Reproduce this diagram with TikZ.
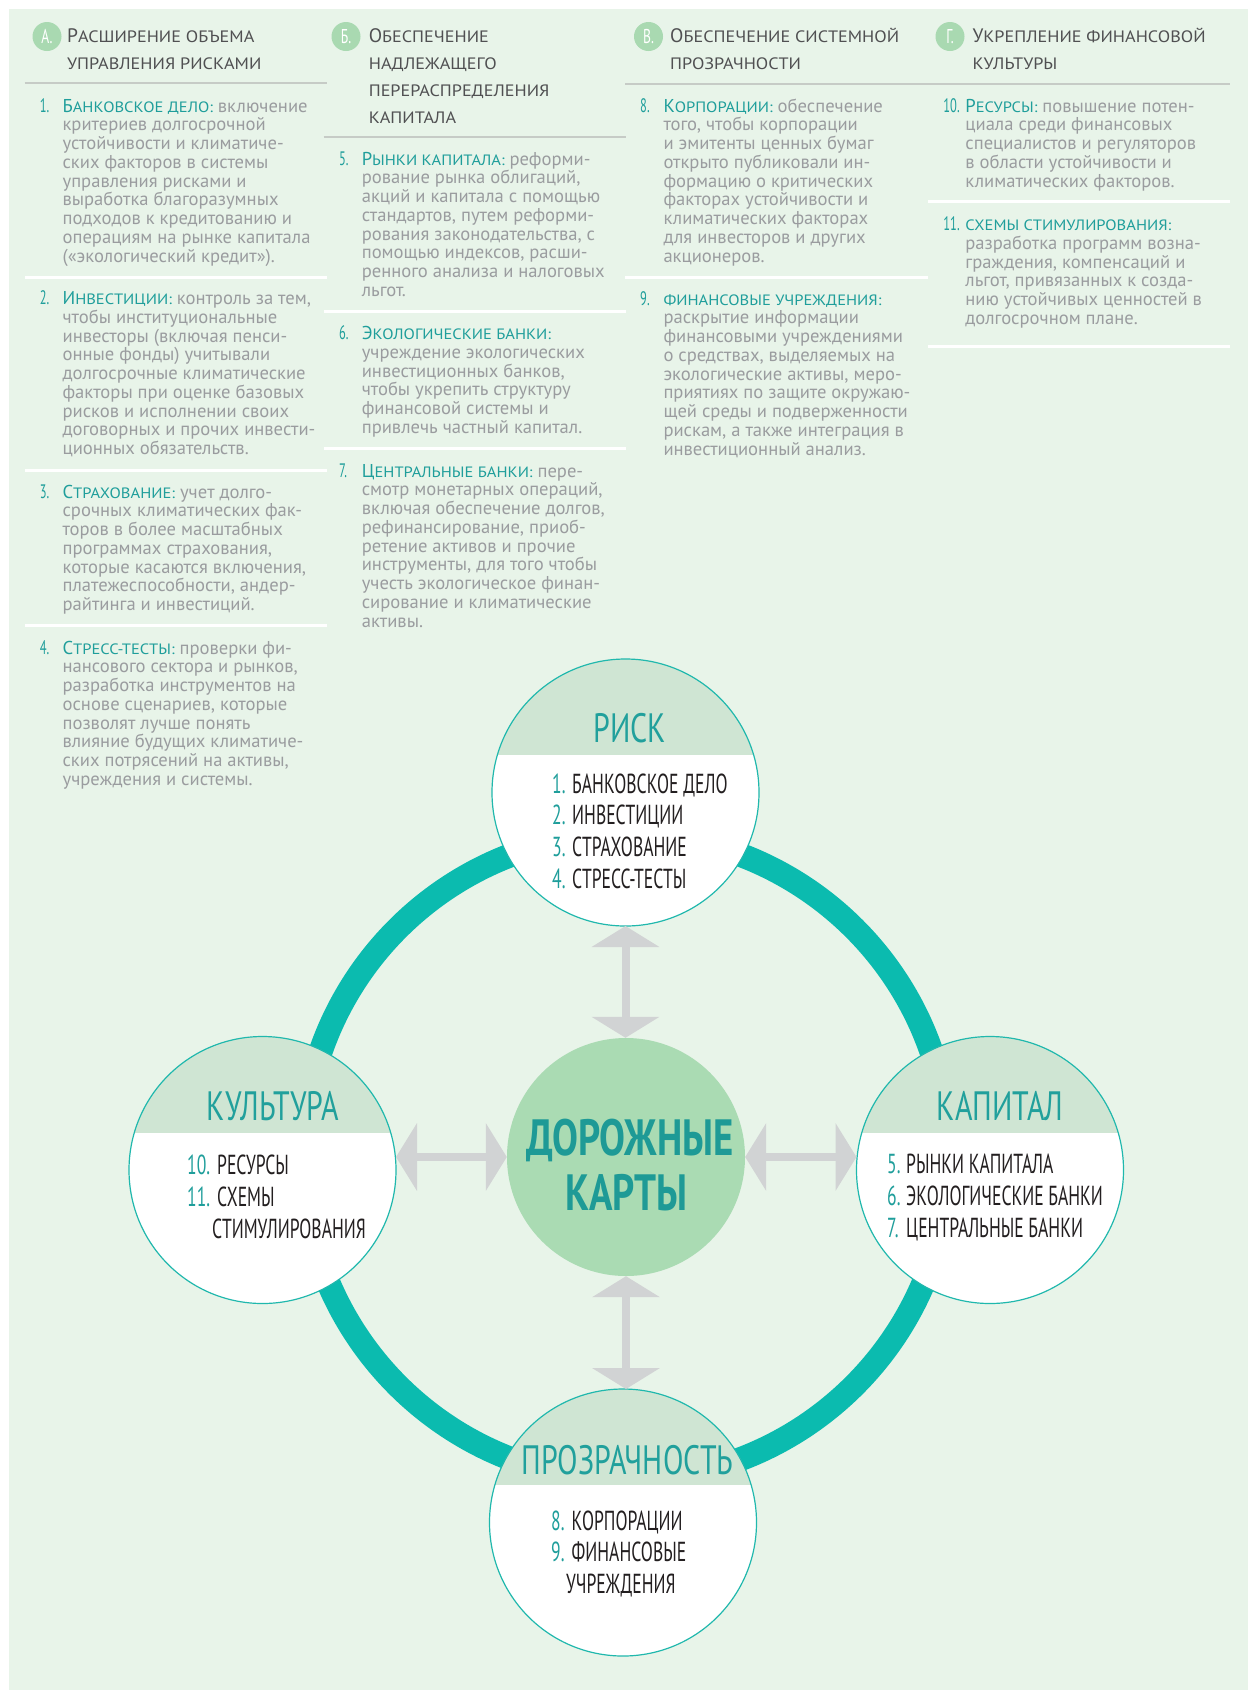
\documentclass[tikz,border=0pt]{standalone}
\usepackage{fontspec}
\setmainfont{PT Sans}
\newfontfamily\condfont[FakeStretch=0.64]{PT Sans}
\newfontfamily\titlefont[FakeStretch=0.73]{PT Sans}
\newfontfamily\markfont[FakeStretch=0.68]{PT Sans}
\newfontfamily\hubfont[FakeStretch=0.76]{PT Sans}
\newfontfamily\widefont[FakeStretch=1.1]{PT Sans}
\usetikzlibrary{arrows.meta}

\definecolor{bggreen}{HTML}{E8F4E9}
\definecolor{bandgreen}{HTML}{CFE5D3}
\definecolor{hubgreen}{HTML}{AADBB3}
\definecolor{ringteal}{HTML}{0BBBAF}
\definecolor{edgeteal}{HTML}{20B8AD}
\definecolor{titleteal}{HTML}{21A09C}
\definecolor{hubteal}{HTML}{1E9A96}
\definecolor{labelteal}{HTML}{1F9E9B}
\definecolor{bodygrey}{HTML}{9A9C9F}
\definecolor{headgrey}{HTML}{505052}
\definecolor{itemdark}{HTML}{231F20}
\definecolor{arrowgrey}{HTML}{D1D3D4}
\definecolor{markergreen}{HTML}{A9D9B1}
\definecolor{rulegrey}{HTML}{C6CBC6}

% fake small caps for headings and labels
\newcommand\hsc[1]{{\widefont\fontsize{16.5}{16.5}\selectfont #1}}
\newcommand\lsc[1]{{\widefont\fontsize{15}{15}\selectfont #1}}
\newcommand\lbl[1]{{\color{labelteal}#1}}

% one numbered paragraph: name, number x, text x, first baseline, number, lines
\newcommand\itemblock[6]{%
  \node[bodynum] (#1-n) at (#2,#4) {#5};
  \foreach \ln [count=\k] in {#6}{%
    \node[bodytxt] (#1-\k) at (#3,{#4+(\k-1)*18.75}) {\ln};
  }%
}

\begin{document}
\begin{tikzpicture}[x=1pt,y=-1pt,
  bodytxt/.style={font=\fontsize{18.6}{18.75}\selectfont, text=bodygrey, inner sep=0pt, anchor=base west},
  bodynum/.style={font=\condfont\fontsize{19.5}{19.5}\selectfont, text=labelteal, inner sep=0pt, anchor=base west},
  headtxt/.style={font=\fontsize{19.5}{19.5}\selectfont, text=headgrey, inner sep=0pt, anchor=base west},
  marker/.style={circle, fill=markergreen, minimum size=29pt, inner sep=0pt, text=white, font=\markfont\fontsize{20}{20}\selectfont},
  toprule/.style={rulegrey, line width=1.3pt},
  gap/.style={white, line width=3pt},
  sat/.style={circle, minimum size=267pt, inner sep=0pt, outer sep=0pt, draw=edgeteal, line width=1.2pt, fill=white,
    path picture={\fill[bandgreen] (path picture bounding box.north west) rectangle ([yshift=-96pt]path picture bounding box.north east);}},
  sattitle/.style={font=\titlefont\fontsize{41}{41}\selectfont, text=titleteal, inner sep=0pt, anchor=base},
  satitem/.style={font=\condfont\fontsize{27.5}{28}\selectfont, text=itemdark, inner sep=0pt, anchor=base west},
  satnum/.style={satitem, text=labelteal},
  hubtxt/.style={font=\hubfont\bfseries\fontsize{51}{51}\selectfont, text=hubteal, inner sep=0pt, anchor=base},
  duo/.style={arrowgrey, line width=8pt, {Triangle[length=21pt,width=67pt]}-{Triangle[length=21pt,width=67pt]}}
]
\useasboundingbox (0,0) rectangle (1248,1690);
\fill[white] (0,0) rectangle (1248,1690);
\fill[bggreen] (9,9) rectangle (1248,1690);

% ---------- column headings ----------
\node[marker] (mA) at (47,36.5) {А.};
\node[headtxt] (hA1) at (67,42.7) {Р\hsc{АСШИРЕНИЕ ОБЪЕМА}};
\node[headtxt] (hA2) at (67,69.2) {\hsc{УПРАВЛЕНИЯ РИСКАМИ}};

\node[marker] (mB) at (346,36.5) {Б.};
\node[headtxt] (hB1) at (368.6,42.7) {О\hsc{БЕСПЕЧЕНИЕ}};
\node[headtxt] (hB2) at (368.6,69.5) {\hsc{НАДЛЕЖАЩЕГО}};
\node[headtxt] (hB3) at (368.6,96.3) {\hsc{ПЕРЕРАСПРЕДЕЛЕНИЯ}};
\node[headtxt] (hB4) at (368.6,123) {\hsc{КАПИТАЛА}};

\node[marker] (mC) at (648.5,36.5) {В.};
\node[headtxt] (hC1) at (670,42.7) {О\hsc{БЕСПЕЧЕНИЕ СИСТЕМНОЙ}};
\node[headtxt] (hC2) at (670,69.2) {\hsc{ПРОЗРАЧНОСТИ}};

\node[marker] (mD) at (950,36.5) {Г.};
\node[headtxt] (hD1) at (972.4,42.7) {У\hsc{КРЕПЛЕНИЕ ФИНАНСОВОЙ}};
\node[headtxt] (hD2) at (972.4,69.2) {\hsc{КУЛЬТУРЫ}};

% rules under the headings
\draw[toprule] (24.5,83) -- (326.5,83);
\draw[toprule] (323.7,137) -- (625.7,137);
\draw[toprule] (625,84) -- (927.6,84);
\draw[toprule] (927.6,84) -- (1229.5,84);

% white gaps between paragraphs
\draw[gap] (24.5,277) -- (326.5,277);
\draw[gap] (24.5,470.7) -- (326.5,470.7);
\draw[gap] (24.5,625.7) -- (326.5,625.7);
\draw[gap] (323.7,311.7) -- (625.7,311.7);
\draw[gap] (323.7,448.7) -- (625.7,448.7);
\draw[gap] (625,277) -- (927.6,277);
\draw[gap] (927.6,201.7) -- (1229.5,201.7);
\draw[gap] (927.6,346.7) -- (1229.5,346.7);

% ---------- column A ----------
\itemblock{p1}{39.6}{62.4}{112}{1.}{%
 {\lbl{Б\lsc{АНКОВСКОЕ ДЕЛО:}} включение},
 {критериев долгосрочной},
 {устойчивости и климатиче-},
 {ских факторов в системы},
 {управления рисками и},
 {выработка благоразумных},
 {подходов к кредитованию и},
 {операциям на рынке капитала},
 {(«экологический кредит»).}}
\itemblock{p2}{39.6}{62.4}{304.5}{2.}{%
 {\lbl{И\lsc{НВЕСТИЦИИ:}} контроль за тем,},
 {чтобы институциональные},
 {инвесторы (включая пенси-},
 {онные фонды) учитывали},
 {долгосрочные климатические},
 {факторы при оценке базовых},
 {рисков и исполнении своих},
 {договорных и прочих инвести-},
 {ционных обязательств.}}
\itemblock{p3}{39.6}{62.4}{498}{3.}{%
 {\lbl{С\lsc{ТРАХОВАНИЕ:}} учет долго-},
 {срочных климатических фак-},
 {торов в более масштабных},
 {программах страхования,},
 {которые касаются включения,},
 {платежеспособности, андер-},
 {райтинга и инвестиций.}}
\itemblock{p4}{39.6}{62.4}{654}{4.}{%
 {\lbl{С\lsc{ТРЕСС-ТЕСТЫ:}} проверки фи-},
 {нансового сектора и рынков,},
 {разработка инструментов на},
 {основе сценариев, которые},
 {позволят лучше понять},
 {влияние будущих климатиче-},
 {ских потрясений на активы,},
 {учреждения и системы.}}

% ---------- column B ----------
\itemblock{p5}{338.8}{361.6}{165}{5.}{%
 {\lbl{Р\lsc{ЫНКИ КАПИТАЛА:}} реформи-},
 {рование рынка облигаций,},
 {акций и капитала с помощью},
 {стандартов, путем реформи-},
 {рования законодательства, с},
 {помощью индексов, расши-},
 {ренного анализа и налоговых},
 {льгот.}}
\itemblock{p6}{338.8}{361.6}{339.5}{6.}{%
 {\lbl{Э\lsc{КОЛОГИЧЕСКИЕ БАНКИ:}}},
 {учреждение экологических},
 {инвестиционных банков,},
 {чтобы укрепить структуру},
 {финансовой системы и},
 {привлечь частный капитал.}}
\itemblock{p7}{338.8}{361.6}{477.2}{7.}{%
 {\lbl{Ц\lsc{ЕНТРАЛЬНЫЕ БАНКИ:}} пере-},
 {смотр монетарных операций,},
 {включая обеспечение долгов,},
 {рефинансирование, приоб-},
 {ретение активов и прочие},
 {инструменты, для того чтобы},
 {учесть экологическое финан-},
 {сирование и климатические},
 {активы.}}

% ---------- column C ----------
\itemblock{p8}{640}{663.3}{112}{8.}{%
 {\lbl{К\lsc{ОРПОРАЦИИ:}} обеспечение},
 {того, чтобы корпорации},
 {и эмитенты ценных бумаг},
 {открыто публиковали ин-},
 {формацию о критических},
 {факторах устойчивости и},
 {климатических факторах},
 {для инвесторов и других},
 {акционеров.}}
\itemblock{p9}{640}{663.3}{305}{9.}{%
 {\lbl{\lsc{ФИНАНСОВЫЕ УЧРЕЖДЕНИЯ:}}},
 {раскрытие информации},
 {финансовыми учреждениями},
 {о средствах, выделяемых на},
 {экологические активы, меро-},
 {приятиях по защите окружаю-},
 {щей среды и подверженности},
 {рискам, а также интеграция в},
 {инвестиционный анализ.}}

% ---------- column D ----------
\itemblock{p10}{943.2}{965.2}{112}{10.}{%
 {\lbl{Р\lsc{ЕСУРСЫ:}} повышение потен-},
 {циала среди финансовых},
 {специалистов и регуляторов},
 {в области устойчивости и},
 {климатических факторов.}}
\itemblock{p11}{943.2}{965.2}{230.5}{11.}{%
 {\lbl{\lsc{СХЕМЫ СТИМУЛИРОВАНИЯ:}}},
 {разработка программ возна-},
 {граждения, компенсаций и},
 {льгот, привязанных к созда-},
 {нию устойчивых ценностей в},
 {долгосрочном плане.}}

% ---------- roadmap diagram ----------
\coordinate (ctr) at (626,1157);
\draw[ringteal, line width=24pt] (ctr) circle[radius=323pt];

\node[circle, fill=hubgreen, minimum size=238pt, inner sep=0pt] (hub) at (ctr) {};
\node[hubtxt] (hubL1) at (630,1155) {ДОРОЖНЫЕ};
\node[hubtxt] (hubL2) at (626.5,1210) {КАРТЫ};

\node[sat] (risk) at (625.5,792.5) {};
\node[sat] (cult) at (262.5,1170) {};
\node[sat] (capt) at (990,1170) {};
\node[sat] (trans) at (623,1522.5) {};

% risk
\node[sattitle] (riskT) at (630,742) {РИСК};
\node[satnum] (r1n) at (552,793) {1.};
\node[satitem] (r1) at (572,793) {БАНКОВСКОЕ ДЕЛО};
\node[satnum] (r2n) at (552,824.5) {2.};
\node[satitem] (r2) at (572,824.5) {ИНВЕСТИЦИИ};
\node[satnum] (r3n) at (552,856) {3.};
\node[satitem] (r3) at (572,856) {СТРАХОВАНИЕ};
\node[satnum] (r4n) at (552,888) {4.};
\node[satitem] (r4) at (572,888) {СТРЕСС-ТЕСТЫ};

% culture
\node[sattitle] (cultT) at (273,1120) {КУЛЬТУРА};
\node[satnum] (c1n) at (187,1174) {10.};
\node[satitem] (c1) at (217,1174) {РЕСУРСЫ};
\node[satnum] (c2n) at (187,1206) {11.};
\node[satitem] (c2) at (217,1206) {СХЕМЫ};
\node[satitem] (c2b) at (212,1238) {СТИМУЛИРОВАНИЯ};

% capital
\node[sattitle] (captT) at (1000,1120) {КАПИТАЛ};
\node[satnum] (k1n) at (887,1173) {5.};
\node[satitem] (k1) at (906,1173) {РЫНКИ КАПИТАЛА};
\node[satnum] (k2n) at (887,1205) {6.};
\node[satitem] (k2) at (906,1205) {ЭКОЛОГИЧЕСКИЕ БАНКИ};
\node[satnum] (k3n) at (887,1237) {7.};
\node[satitem] (k3) at (906,1237) {ЦЕНТРАЛЬНЫЕ БАНКИ};

% transparency
\node[sattitle] (transT) at (627.5,1474) {ПРОЗРАЧНОСТЬ};
\node[satnum] (t1n) at (551,1530) {8.};
\node[satitem] (t1) at (571.5,1530) {КОРПОРАЦИИ};
\node[satnum] (t2n) at (551,1561.7) {9.};
\node[satitem] (t2) at (571.5,1561.7) {ФИНАНСОВЫЕ};
\node[satitem] (t2b) at (566,1593.3) {УЧРЕЖДЕНИЯ};

% two-way links to the hub
\draw[duo] (risk.south) -- (risk.south |- hub.north);
\draw[duo] (hub.south) -- (hub.south |- trans.north);
\draw[duo] (hub.west) -- (hub.west -| cult.east);
\draw[duo] (hub.east) -- (hub.east -| capt.west);
\end{tikzpicture}
\end{document}
